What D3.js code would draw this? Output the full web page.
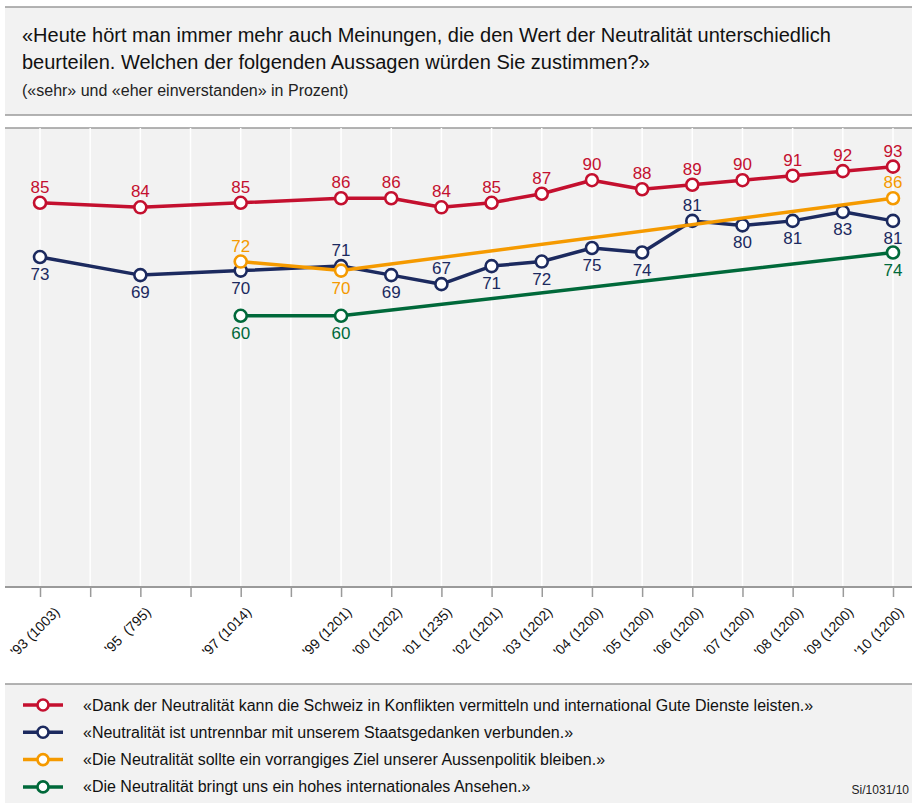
<!DOCTYPE html>
<html><head><meta charset="utf-8">
<script src="https://cdn.jsdelivr.net/npm/d3@7"></script>
<style>
body{margin:0;background:#fff;}
svg{display:block;font-family:"Liberation Sans",Arial,sans-serif;}
svg text{font-family:"Liberation Sans",Arial,sans-serif;}
</style></head>
<body>
<svg id="c" width="914" height="803"></svg>
<script>
const years = [1993,1994,1995,1996,1997,1998,1999,2000,2001,2002,2003,2004,2005,2006,2007,2008,2009,2010];
const tickLabels = {1993:"'93 (1003)",1995:"'95  (795)",1997:"'97 (1014)",1999:"'99 (1201)",2000:"'00 (1202)",2001:"'01 (1235)",2002:"'02 (1201)",2003:"'03 (1202)",2004:"'04 (1200)",2005:"'05 (1200)",2006:"'06 (1200)",2007:"'07 (1200)",2008:"'08 (1200)",2009:"'09 (1200)",2010:"'10 (1200)"};

const redYears = [1993,1995,1997,1999,2000,2001,2002,2003,2004,2005,2006,2007,2008,2009,2010];
const redValues = [85,84,85,86,86,84,85,87,90,88,89,90,91,92,93];
const blueYears = [1993,1995,1997,1999,2000,2001,2002,2003,2004,2005,2006,2007,2008,2009,2010];
const blueValues = [73,69,70,71,69,67,71,72,75,74,81,80,81,83,81];
const blueLabelPos = ["b","b","b","a","b","a","b","b","b","b","a","b","b","b","b"];
const orangeYears = [1997,1999,2010];
const orangeValues = [72,70,86];
const orangeLabelPos = ["a","b","a"];
const greenYears = [1997,1999,2010];
const greenValues = [60,60,74];
const greenLabelPos = ["b","b","b"];

const seriesNames = [
 "«Dank der Neutralität kann die Schweiz in Konflikten vermitteln und international Gute Dienste leisten.»",
 "«Neutralität ist untrennbar mit unserem Staatsgedanken verbunden.»",
 "«Die Neutralität sollte ein vorrangiges Ziel unserer Aussenpolitik bleiben.»",
 "«Die Neutralität bringt uns ein hohes internationales Ansehen.»"
];
const colors = ["#c4102f","#1c2a5f","#f59a00","#00693a"];

const series = [
 {name:seriesNames[0], color:colors[0], years:redYears, values:redValues, pos:redYears.map(()=>"a")},
 {name:seriesNames[1], color:colors[1], years:blueYears, values:blueValues, pos:blueLabelPos},
 {name:seriesNames[2], color:colors[2], years:orangeYears, values:orangeValues, pos:orangeLabelPos},
 {name:seriesNames[3], color:colors[3], years:greenYears, values:greenValues, pos:greenLabelPos}
];

const svg = d3.select("#c");
const bg = "#f2f2f2", rule = "#9a9a9a";

// header
svg.append("rect").attr("x",5).attr("y",7).attr("width",907).attr("height",108).attr("fill",bg);
svg.append("line").attr("x1",5).attr("x2",912).attr("y1",7).attr("y2",7).attr("stroke",rule).attr("stroke-width",1.5);
svg.append("line").attr("x1",5).attr("x2",912).attr("y1",115).attr("y2",115).attr("stroke",rule).attr("stroke-width",1.5);
const title = svg.append("text").attr("x",22).attr("y",42).attr("font-size",20).attr("fill","#111");
title.append("tspan").attr("x",22).attr("y",42).text("«Heute hört man immer mehr auch Meinungen, die den Wert der Neutralität unterschiedlich");
title.append("tspan").attr("x",22).attr("y",69).text("beurteilen. Welchen der folgenden Aussagen würden Sie zustimmen?»");
svg.append("text").attr("x",22).attr("y",96).attr("font-size",16).attr("fill","#222").text("(«sehr» und «eher einverstanden» in Prozent)");

// plot area
const x = d3.scaleLinear().domain([1993,2010]).range([40,893]);
const y = d3.scaleLinear().domain([0,100]).range([587,135]);
svg.append("rect").attr("x",5).attr("y",128).attr("width",907).attr("height",459).attr("fill",bg);
svg.append("line").attr("x1",5).attr("x2",912).attr("y1",128).attr("y2",128).attr("stroke",rule).attr("stroke-width",1.5);
svg.append("g").selectAll("line").data(years).join("line")
  .attr("x1",d=>x(d)).attr("x2",d=>x(d)).attr("y1",128).attr("y2",587)
  .attr("stroke","#fff").attr("stroke-width",1.5);

const xAxis = d3.axisBottom(x).tickValues(years).tickSize(10).tickFormat(d=>tickLabels[d]||"");
const gx = svg.append("g").attr("transform","translate(0,587)").call(xAxis).attr("font-family",null).attr("font-size",null);
gx.select(".domain").attr("stroke",rule).attr("stroke-width",2).attr("d","M5,0H912");
gx.selectAll(".tick line").attr("stroke",rule).attr("stroke-width",1.5);
gx.selectAll(".tick text").attr("font-size",14).attr("fill","#111")
  .style("white-space","pre")
  .attr("text-anchor","end").attr("dy",null).attr("y",0)
  .attr("transform",(d,i)=>`translate(${i===0?20:11},26) rotate(-45)`);

// lines
const line = d3.line().x(d=>x(d[0])).y(d=>y(d[1]));
series.forEach(s=>{
  const pts = s.years.map((yr,i)=>[yr,s.values[i],s.pos[i]]);
  const g = svg.append("g");
  g.append("path").datum(pts).attr("d",line).attr("fill","none").attr("stroke",s.color)
   .attr("stroke-width",3.5).attr("stroke-linejoin","round");
  g.selectAll("circle").data(pts).join("circle").attr("cx",d=>x(d[0])).attr("cy",d=>y(d[1]))
   .attr("r",6).attr("fill","#fff").attr("stroke",s.color).attr("stroke-width",2.6);
  s.lbl = pts;
});
series.forEach(s=>{
  svg.append("g").selectAll("text").data(s.lbl).join("text")
   .attr("x",d=>x(d[0])).attr("y",d=>y(d[1]) + (d[2]==="a" ? -10 : 23))
   .attr("text-anchor","middle").attr("font-size",17).attr("fill",s.color).text(d=>d[1]);
});

// legend
svg.append("rect").attr("x",5).attr("y",684).attr("width",907).attr("height",119).attr("fill",bg);
svg.append("line").attr("x1",5).attr("x2",912).attr("y1",684).attr("y2",684).attr("stroke",rule).attr("stroke-width",1.5);
const lg = svg.append("g").selectAll("g").data(series).join("g")
  .attr("transform",(d,i)=>`translate(0,${705 + i*27.3})`);
lg.append("line").attr("x1",23).attr("x2",63).attr("stroke",d=>d.color).attr("stroke-width",3.5);
lg.append("circle").attr("cx",43).attr("r",5.5).attr("fill","#fff").attr("stroke",d=>d.color).attr("stroke-width",2.6);
lg.append("text").attr("x",83).attr("y",5.5).attr("font-size",16).attr("fill","#111").text(d=>d.name);
svg.append("text").attr("x",909).attr("y",794).attr("text-anchor","end").attr("font-size",12).attr("fill","#222").text("Si/1031/10");
</script>
</body></html>
